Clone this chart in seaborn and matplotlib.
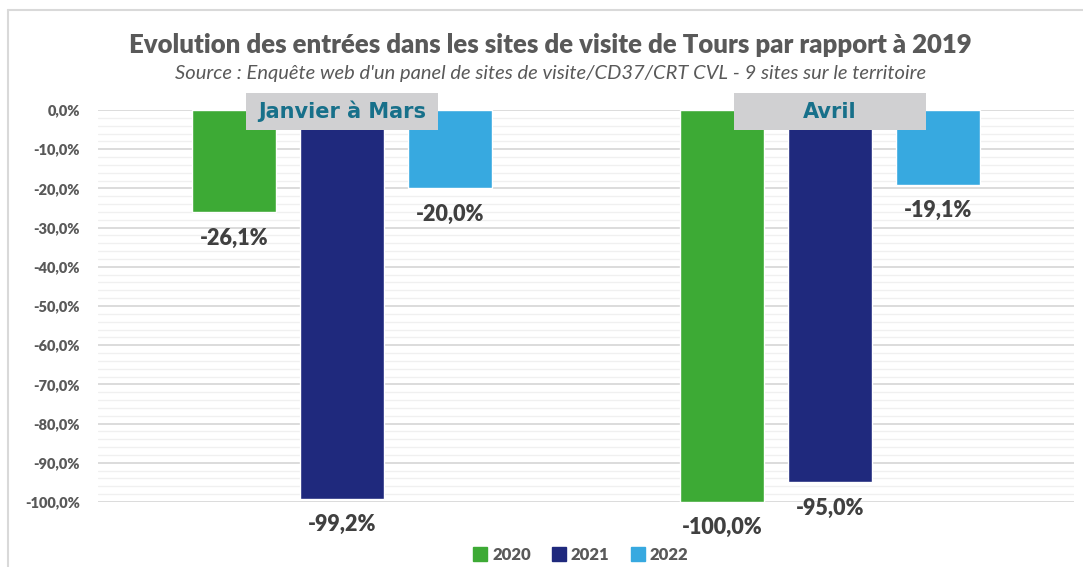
import matplotlib
matplotlib.use("Agg")
import matplotlib.pyplot as plt
import seaborn as sns
import pandas as pd
from matplotlib.patches import Rectangle
from matplotlib.lines import Line2D
from matplotlib.ticker import MultipleLocator, FuncFormatter

# data
periods = ["Janvier à Mars", "Avril"]
years = ["2020", "2021", "2022"]
val_2020 = [-26.1, -100.0]
val_2021 = [-99.2, -95.0]
val_2022 = [-20.0, -19.1]
colors = ["#3DAA35", "#1F297D", "#37A9E0"]

title = "Evolution des entrées dans les sites de visite de Tours par rapport à 2019"
subtitle = "Source : Enquête web d'un panel de sites de visite/CD37/CRT CVL - 9 sites sur le territoire"

rows = []
for y, vals in zip(years, [val_2020, val_2021, val_2022]):
    for p, v in zip(periods, vals):
        rows.append({"periode": p, "annee": y, "valeur": v})
df = pd.DataFrame(rows)

sns.set_style("white")
plt.rcParams["font.family"] = ["Lato", "DejaVu Sans"]

fig = plt.figure(figsize=(10.83, 5.67), dpi=100)
ax = fig.add_axes([98 / 1083, 1 - 502 / 567, 976 / 1083, 392 / 567])

sns.barplot(data=df, x="periode", y="valeur", hue="annee", order=periods,
            hue_order=years, palette=colors, width=0.664, gap=0.22,
            saturation=1, legend=False, ax=ax, zorder=3)

ax.set_ylim(-100, 0)
ax.set_xlim(-0.5, 1.5)
ax.yaxis.set_major_locator(MultipleLocator(10))
ax.yaxis.set_minor_locator(MultipleLocator(2))
ax.yaxis.set_major_formatter(FuncFormatter(lambda v, p: f"{v:.1f}%".replace(".", ",").replace("-0,0", "0,0")))
ax.grid(axis="y", which="major", color="#D9D9D9", lw=1.3, zorder=0)
ax.grid(axis="y", which="minor", color="#F0F0F0", lw=1.0, zorder=0)
ax.set_axisbelow(True)
for s in ax.spines.values():
    s.set_visible(False)
ax.set_xticks([])
ax.set_xlabel("")
ax.set_ylabel("")
ax.tick_params(axis="y", which="both", length=0, pad=13, labelsize=10.5, labelcolor="#595959")
for t in ax.get_yticklabels():
    t.set_fontweight("heavy")

# value labels under each bar
for cont, vals in zip(ax.containers, [val_2020, val_2021, val_2022]):
    for bar, v in zip(cont, vals):
        ax.annotate(f"{v:.1f}%".replace(".", ","),
                    (bar.get_x() + bar.get_width() / 2, bar.get_height()),
                    xytext=(0, -18.5), textcoords="offset points",
                    ha="center", va="center", fontsize=15.5, fontweight="heavy",
                    color="#404040", annotation_clip=False)

# period boxes at the top
for i, p in enumerate(periods):
    ax.add_patch(Rectangle((i - 0.197, -5.1), 0.394, 9.4, facecolor="#D0D0D2",
                           edgecolor="none", clip_on=False, zorder=5))
    ax.text(i, -0.4, p, ha="center", va="center", fontsize=15, fontweight="bold",
            color="#17708A", family="DejaVu Sans", zorder=6)

fig.text(550 / 1083, 1 - 45 / 567, title, ha="center", va="center",
         fontsize=18.5, fontweight="heavy", color="#595959")
fig.text(551 / 1083, 1 - 74 / 567, subtitle, ha="center", va="center",
         fontsize=14.5, style="italic", color="#595959")

handles = [Line2D([], [], marker="s", linestyle="none", markersize=10,
                  markerfacecolor=c, markeredgecolor=c) for c in colors]
leg = fig.legend(handles, years, loc="center", bbox_to_anchor=(580 / 1083, 1 - 555 / 567),
                 ncol=3, frameon=False, handletextpad=0.2, columnspacing=1.2,
                 handlelength=1.0, prop={"weight": "heavy", "size": 12})
for t in leg.get_texts():
    t.set_color("#595959")

# outer frame (left and top edges)
fig.add_artist(Line2D([8 / 1083, 8 / 1083], [0, 1 - 10 / 567], color="#D9D9D9", lw=1.5))
fig.add_artist(Line2D([8 / 1083, 1], [1 - 10 / 567, 1 - 10 / 567], color="#D9D9D9", lw=1.5))

fig.savefig("out.png", dpi=100)
